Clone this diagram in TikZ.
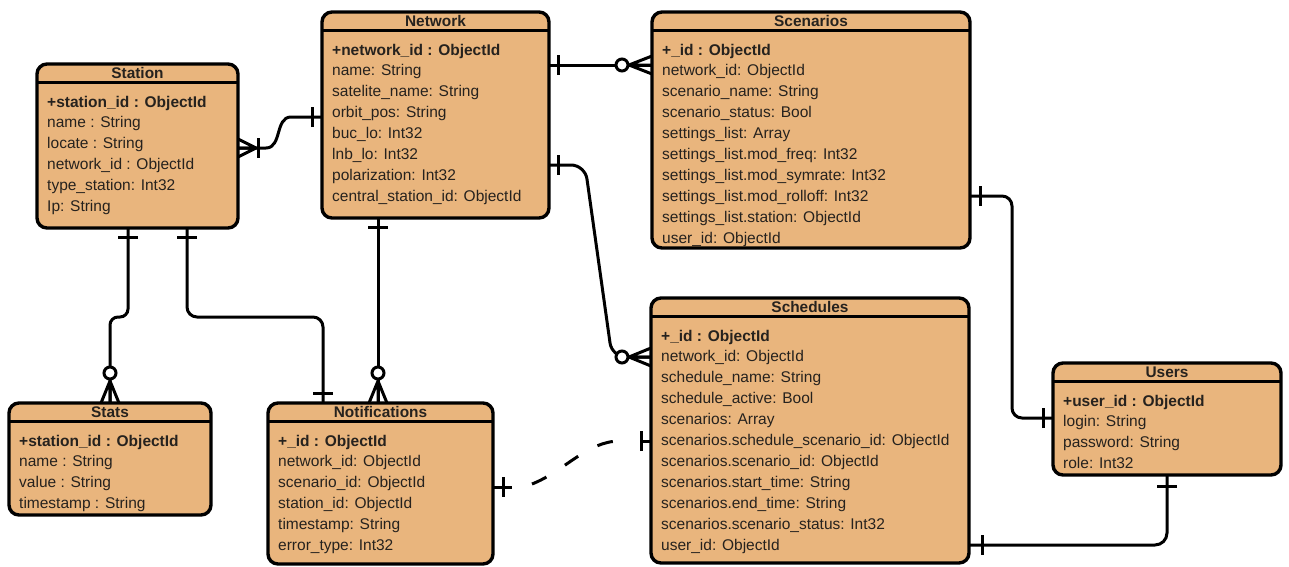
\documentclass[tikz,border=0pt]{standalone}
\usepackage{fontspec}
\setmainfont{Liberation Sans}
\usetikzlibrary{calc}

\definecolor{entityfill}{RGB}{233,181,125}
\definecolor{inktext}{RGB}{38,34,30}

\tikzset{
  entitybox/.style={draw=black, fill=entityfill, line width=3.4pt, rounded corners=10pt,
                    inner sep=0pt, outer sep=0pt, anchor=north west},
  headrule/.style={line width=3pt},
  titletext/.style={font=\fontsize{15.4}{18}\selectfont\bfseries, text=inktext, inner sep=0pt},
  fieldtext/.style={font=\fontsize{15.5}{18}\selectfont, text=inktext, inner sep=0pt, anchor=base west},
  conn/.style={line width=3pt, line cap=butt},
  % relationship end marks, drawn in a frame whose x axis leaves the box edge
  pics/erbar/.style={code={\draw[conn] (#1,-10) -- (#1,10);}},
  pics/ercircle/.style={code={\draw[conn, fill=white] (#1,0) circle[radius=6pt];}},
  pics/ercrow/.style={code={\draw[conn, line join=miter] (0,-9) -- (#1,0) -- (0,9) (0,0) -- (#1,0);}},
}

% name, x, y (north west corner), width, height, title, rows
\newcommand\entity[7]{%
  \node[entitybox, minimum width=#4pt, minimum height=#5pt] (#1) at (#2,#3) {};
  \draw[headrule] ($(#1.north west)+(0,18)$) -- ($(#1.north east)+(0,18)$);
  \node[titletext, anchor=base] (#1-title) at ($(#1.north)+(0,14.5)$) {#6};
  \foreach \r [count=\i from 0] in {#7}
    \node[fieldtext] (#1-row\i) at ($(#1.north west)+(10,43+20.9*\i)$) {\r};
}

\begin{document}
\begin{tikzpicture}[x=1pt, y=-1pt]
  \path[fill=white] (0,0) rectangle (1289,566);
  \useasboundingbox (0,0) rectangle (1289,566);

  \entity{station}{37}{64}{201}{164}{Station}{%
    \textbf{+station\_id : ObjectId}, name : String, locate : String,
    network\_id : ObjectId, type\_station: Int32, Ip: String}

  \entity{network}{322}{12}{227}{206}{Network}{%
    \textbf{+network\_id : ObjectId}, name: String, satelite\_name: String,
    orbit\_pos: String, buc\_lo: Int32, lnb\_lo: Int32, polarization: Int32,
    central\_station\_id: ObjectId}

  \entity{scenarios}{652}{12}{318}{236}{Scenarios}{%
    \textbf{+\_id : ObjectId}, network\_id: ObjectId, scenario\_name: String,
    scenario\_status: Bool, settings\_list: Array, settings\_list.mod\_freq: Int32,
    settings\_list.mod\_symrate: Int32, settings\_list.mod\_rolloff: Int32,
    settings\_list.station: ObjectId, user\_id: ObjectId}

  \entity{schedules}{651}{298}{318}{265}{Schedules}{%
    \textbf{+\_id : ObjectId}, network\_id: ObjectId, schedule\_name: String,
    schedule\_active: Bool, scenarios: Array,
    scenarios.schedule\_scenario\_id: ObjectId, scenarios.scenario\_id: ObjectId,
    scenarios.start\_time: String, scenarios.end\_time: String,
    scenarios.scenario\_status: Int32, user\_id: ObjectId}

  \entity{users}{1053}{363}{228}{112}{Users}{%
    \textbf{+user\_id : ObjectId}, login: String, password: String, role: Int32}

  \entity{stats}{9}{403}{202}{112}{Stats}{%
    \textbf{+station\_id : ObjectId}, name : String, value : String, timestamp : String}

  \entity{notifications}{268}{403}{225}{161}{Notifications}{%
    \textbf{+\_id : ObjectId}, network\_id: ObjectId, scenario\_id: ObjectId,
    station\_id: ObjectId, timestamp: String, error\_type: Int32}

  % Station (one or many) -- Network (one)
  \coordinate (c1a) at ($(station.north east)+(0,84)$);
  \coordinate (c1b) at ($(network.north west)+(0,105)$);
  \draw[conn] (c1a) -- ++(28,0) .. controls +(16,0) and +(-16,0) .. ($(c1b)+(-31,0)$) -- (c1b);
  \pic at (c1a) {ercrow=18};
  \pic at (c1a) {erbar=20};
  \pic[rotate=180] at (c1b) {erbar=10};

  % Network (one) -- Scenarios (zero or many)
  \coordinate (c2a) at ($(network.north east)+(0,53)$);
  \coordinate (c2b) at ($(scenarios.north west)+(0,53)$);
  \draw[conn] (c2a) -- (c2b);
  \pic at (c2a) {erbar=9};
  \pic[rotate=180] at (c2b) {ercrow=23};
  \pic[rotate=180] at (c2b) {ercircle=30};

  % Network (one) -- Schedules (zero or many)
  \coordinate (c3a) at ($(network.north east)+(0,153)$);
  \coordinate (c3b) at ($(schedules.north west)+(0,59)$);
  \draw[conn, rounded corners=14pt] (c3a) -- ++(36,0) -- ($(c3b)+(-39,0)$) -- (c3b);
  \pic at (c3a) {erbar=9};
  \pic[rotate=180] at (c3b) {ercrow=22};
  \pic[rotate=180] at (c3b) {ercircle=29};

  % Station (one) -- Stats (zero or many)
  \coordinate (c4a) at ($(station.south west)+(91,0)$);
  \coordinate (c4b) at (stats.north);
  \draw[conn, rounded corners=8pt] (c4a) -- ++(0,89) -| (c4b);
  \pic[rotate=-90] at (c4a) {erbar=9};
  \pic[rotate=90] at (c4b) {ercrow=22};
  \pic[rotate=90] at (c4b) {ercircle=30};

  % Station (one) -- Notifications (one)
  \coordinate (c5a) at ($(station.south west)+(150,0)$);
  \coordinate (c5b) at ($(notifications.north west)+(55,0)$);
  \draw[conn, rounded corners=10pt] (c5a) -- ++(0,89) -| (c5b);
  \pic[rotate=-90] at (c5a) {erbar=9};
  \pic[rotate=90] at (c5b) {erbar=10};

  % Network (one) -- Notifications (zero or many)
  \coordinate (c6a) at ($(network.south west)+(56,0)$);
  \coordinate (c6b) at ($(notifications.north west)+(110,0)$);
  \draw[conn] (c6a) -- (c6b);
  \pic[rotate=-90] at (c6a) {erbar=9};
  \pic[rotate=90] at (c6b) {ercrow=22};
  \pic[rotate=90] at (c6b) {ercircle=30};

  % Notifications (one) -- Schedules (one), non-identifying
  \coordinate (c7a) at ($(notifications.north east)+(0,84)$);
  \coordinate (c7b) at ($(schedules.north west)+(0,143)$);
  \draw[conn] (c7a) -- ++(19,0);
  \draw[conn] (c7b) -- ++(-10,0);
  \draw[conn, dash pattern=on 16pt off 22pt]
    ($(c7a)+(39,-3)$) .. controls ($(c7a)+(72,-16)$) and ($(c7b)+(-64,0)$) .. ($(c7b)+(-31,0)$);
  \pic at (c7a) {erbar=10};
  \pic[rotate=180] at (c7b) {erbar=10};

  % Scenarios (one) -- Users (one)
  \coordinate (c8a) at ($(scenarios.north east)+(0,184)$);
  \coordinate (c8b) at ($(users.north west)+(0,55)$);
  \draw[conn, rounded corners=10pt] (c8a) -- ++(42,0) |- (c8b);
  \pic at (c8a) {erbar=10};
  \pic[rotate=180] at (c8b) {erbar=10};

  % Schedules (one) -- Users (one)
  \coordinate (c9a) at ($(schedules.north east)+(0,247)$);
  \coordinate (c9b) at (users.south);
  \draw[conn, rounded corners=12pt] (c9a) -| (c9b);
  \pic at (c9a) {erbar=13};
  \pic[rotate=-90] at (c9b) {erbar=11};
\end{tikzpicture}
\end{document}
